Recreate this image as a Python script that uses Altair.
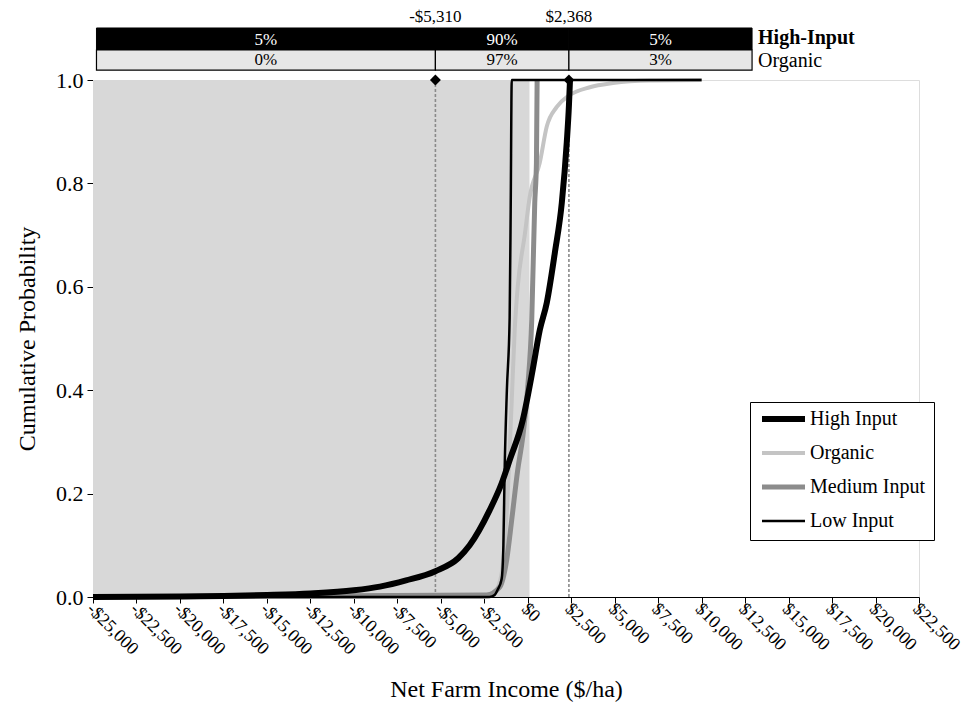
import altair as alt
import pandas as pd

FONT = "Liberation Serif"

# ---- data ----
series_names = ["High Input", "Organic", "Medium Input", "Low Input"]

x_high = [-25000, -20000, -17500, -15000, -12500, -10000, -8500, -7000, -5310, -4000,
          -3341, -2189, -1498, -1037, -288, 288, 691, 1094, 1555, 1958, 2246, 2368, 2430]
y_high = [0.0, 0.001, 0.002, 0.004, 0.007, 0.013, 0.02, 0.032, 0.05, 0.075,
          0.10, 0.168, 0.22, 0.265, 0.342, 0.44, 0.516, 0.569, 0.665, 0.762, 0.88, 0.95, 1.0]

x_org = [-25000, -2500, -2000, -1700, -1440, -1150, -920, -750, -576, -173, 115, 691,
         1094, 1670, 2368, 3571, 4896, 7000, 10000]
y_org = [0.0, 0.0, 0.005, 0.02, 0.06, 0.2, 0.38, 0.516, 0.60, 0.70, 0.774, 0.84,
         0.91, 0.948, 0.97, 0.986, 0.994, 0.999, 1.0]

x_med = [-25000, -2362, -1613, -1210, -922, -576, -288, 0, 230, 403, 500, 540]
y_med = [0.0, 0.004, 0.019, 0.072, 0.149, 0.246, 0.309, 0.406, 0.536, 0.762, 0.84, 1.0]

x_low = [-25000, -2200, -1900, -1730, -1500, -1400, -1325, -1200, -1040, -980, -920, 10000]
y_low = [0.0, 0.0, 0.004, 0.014, 0.035, 0.1, 0.25, 0.4, 0.54, 0.75, 1.0, 1.0]

cutoffs = [-5310, 2368]
cutoff_labels = ["-$5,310", "$2,368"]
bar_bounds = [-24800, -5310, 2368, 12900]
high_pct = ["5%", "90%", "5%"]
org_pct = ["0%", "97%", "3%"]
shade_range = [-25000, 100]

x_ticks = list(range(-25000, 22501, 2500))

# ---- tables ----
frames = []
for name, xs, ys in [("High Input", x_high, y_high), ("Organic", x_org, y_org),
                     ("Medium Input", x_med, y_med), ("Low Input", x_low, y_low)]:
    frames.append(pd.DataFrame({"series": name, "x": xs, "y": ys}))
curves = pd.concat(frames, ignore_index=True)

segs = pd.DataFrame({
    "x0": bar_bounds[:-1], "x1": bar_bounds[1:],
    "mid": [(a + b) / 2 for a, b in zip(bar_bounds[:-1], bar_bounds[1:])],
    "high": high_pct, "org": org_pct,
})
cut_df = pd.DataFrame({"x": cutoffs, "label": cutoff_labels})
shade_df = pd.DataFrame({"x0": [shade_range[0]], "x1": [shade_range[1]]})
row_df = pd.DataFrame({"x": [bar_bounds[-1]], "name": ["High-Input"]})
row_df2 = pd.DataFrame({"x": [bar_bounds[-1]], "name": ["Organic"]})

xscale = alt.Scale(domain=[-25000, 22500], nice=False, zero=False)
yscale = alt.Scale(domain=[0, 1], nice=False)

label_expr = ("datum.value < 0 ? '-$' + format(-datum.value, ',') : '$' + format(datum.value, ',')")

x_axis = alt.Axis(values=x_ticks, labelExpr=label_expr, labelAngle=45, labelAlign="left",
                  labelBaseline="middle", labelFontSize=18, labelPadding=3, labelOffset=-4,
                  tickSize=6,
                  title="Net Farm Income ($/ha)", titleFontSize=24, titleFontWeight="normal",
                  titleY=80, titleBaseline="top", grid=False, domainColor="black",
                  tickColor="black", labelColor="black", titleColor="black", labelFlush=False,
                  labelOverlap=False)
y_axis = alt.Axis(values=[0, 0.2, 0.4, 0.6, 0.8, 1.0], format=".1f", labelFontSize=22,
                  tickSize=6, labelPadding=4, title="Cumulative Probability", titleFontSize=24,
                  titleFontWeight="normal", titleX=-66, titleBaseline="middle", grid=False,
                  domainColor="black", tickColor="black", labelColor="black", titleColor="black")

shade = alt.Chart(shade_df).mark_rect(color="#d8d8d8").encode(
    x=alt.X("x0:Q", scale=xscale, axis=x_axis), x2="x1:Q",
    y=alt.datum(0, type="quantitative", scale=yscale, axis=y_axis), y2=alt.datum(1))

rules = alt.Chart(cut_df).mark_rule(color="#8a8a8a", strokeDash=[3, 2], strokeWidth=1.6).encode(
    x=alt.X("x:Q", scale=xscale), y=alt.datum(0), y2=alt.datum(1))

color_scale = alt.Scale(domain=series_names, range=["#000000", "#c4c4c4", "#8c8c8c", "#000000"])
width_scale = alt.Scale(type="ordinal", domain=series_names, range=[6, 4, 5, 2.5])
legend = alt.Legend(title=None, orient="none", legendX=657, legendY=322, symbolType="stroke",
                    symbolSize=1849, clipHeight=16, rowPadding=14, padding=9, labelOffset=2,
                    labelFontSize=20, labelFont=FONT, labelColor="black", strokeColor="black",
                    fillColor="white")


def curve(name):
    return alt.Chart(curves).transform_filter(alt.datum.series == name).mark_line(
        interpolate="monotone", strokeCap="butt").encode(
        x=alt.X("x:Q", scale=xscale),
        y=alt.Y("y:Q", scale=yscale),
        color=alt.Color("series:N", scale=color_scale, legend=legend),
        strokeWidth=alt.StrokeWidth("series:N", scale=width_scale, legend=legend),
        order=alt.Order("x:Q"),
    )


lines = [curve("Organic"), curve("Medium Input"), curve("Low Input"), curve("High Input")]

diamonds = alt.Chart(cut_df).mark_point(shape="diamond", filled=True, color="black", size=120,
                                        opacity=1, clip=False).encode(
    x=alt.X("x:Q", scale=xscale), y=alt.datum(1.0))
cut_text = alt.Chart(cut_df).mark_text(fontSize=17, font=FONT, color="black", clip=False,
                                       baseline="bottom").encode(
    x=alt.X("x:Q", scale=xscale), y=alt.datum(1.105), text="label:N")

high_bar = alt.Chart(segs).mark_rect(color="black", stroke="black", strokeWidth=1, clip=False).encode(
    x=alt.X("x0:Q", scale=xscale), x2="x1:Q", y=alt.datum(1.058), y2=alt.datum(1.1006))
org_bar = alt.Chart(segs).mark_rect(fill="#e6e6e6", stroke="black", strokeWidth=1.2, clip=False).encode(
    x=alt.X("x0:Q", scale=xscale), x2="x1:Q", y=alt.datum(1.019), y2=alt.datum(1.058))
high_txt = alt.Chart(segs).mark_text(fontSize=17, font=FONT, color="white", clip=False).encode(
    x=alt.X("mid:Q", scale=xscale), y=alt.datum(1.078), text="high:N")
org_txt = alt.Chart(segs).mark_text(fontSize=17, font=FONT, color="black", clip=False).encode(
    x=alt.X("mid:Q", scale=xscale), y=alt.datum(1.038), text="org:N")
row1 = alt.Chart(row_df).mark_text(fontSize=20, font=FONT, fontWeight="bold", color="black",
                                   align="left", dx=6, clip=False).encode(
    x=alt.X("x:Q", scale=xscale), y=alt.datum(1.081), text="name:N")
row2 = alt.Chart(row_df2).mark_text(fontSize=20, font=FONT, color="black",
                                    align="left", dx=6, clip=False).encode(
    x=alt.X("x:Q", scale=xscale), y=alt.datum(1.037), text="name:N")

chart = alt.layer(shade, rules, *lines, diamonds, high_bar, org_bar, high_txt, org_txt,
                  cut_text, row1, row2).properties(
    width=826, height=517, autosize="none",
    padding={"left": 85, "top": 72, "right": 46, "bottom": 110},
).configure_view(stroke=None).configure(font=FONT).configure_axis(
    labelFont=FONT, titleFont=FONT)

chart.save("out.html", embed_options={"renderer": "svg", "actions": False})
